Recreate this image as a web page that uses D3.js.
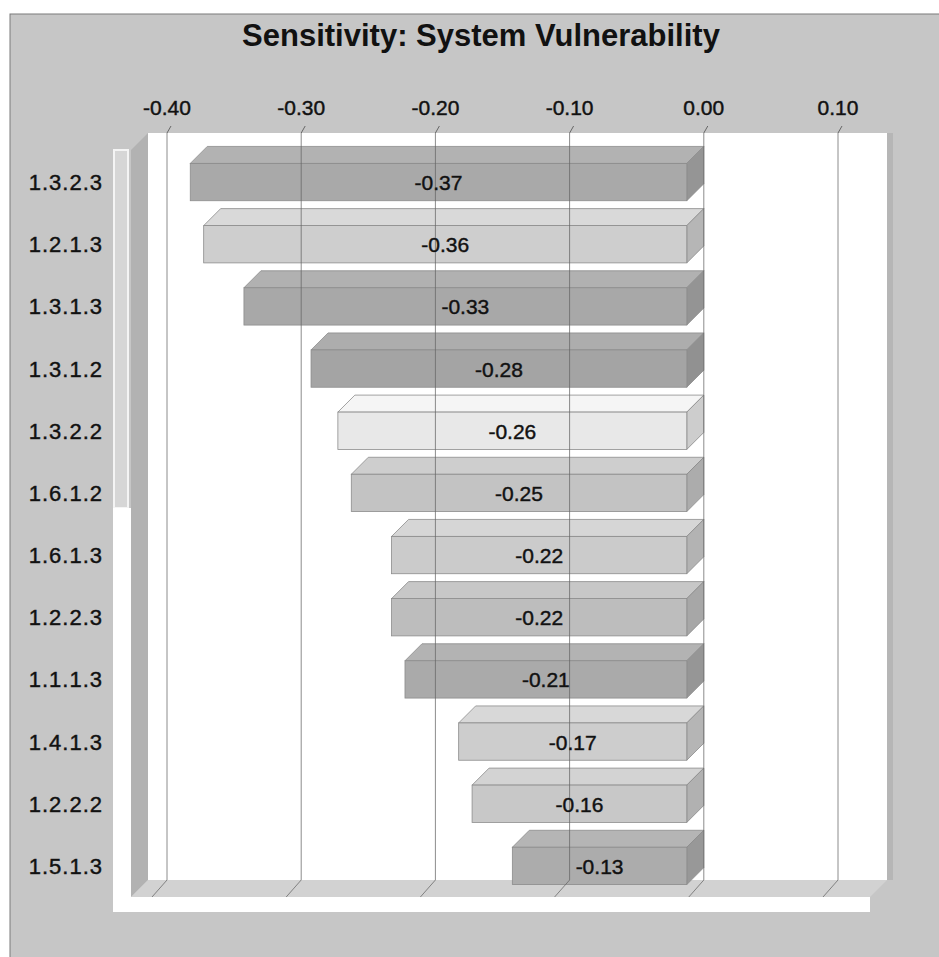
<!DOCTYPE html>
<html>
<head>
<meta charset="utf-8">
<script src="https://cdn.jsdelivr.net/npm/d3@7"></script>
<style>
  html, body { margin: 0; padding: 0; background: #ffffff; }
  svg { display: block; }
  text { font-family: "Liberation Sans", Arial, sans-serif; fill: #111; }
  .lbl { stroke: #222; stroke-width: 0.45px; paint-order: stroke; }
</style>
</head>
<body>
<svg id="chart" width="939" height="957"></svg>
<script>
// Sensitivity of system vulnerability to each factor
const categories = ["1.3.2.3", "1.2.1.3", "1.3.1.3", "1.3.1.2", "1.3.2.2", "1.6.1.2",
                    "1.6.1.3", "1.2.2.3", "1.1.1.3", "1.4.1.3", "1.2.2.2", "1.5.1.3"];
const values = [-0.37, -0.36, -0.33, -0.28, -0.26, -0.25, -0.22, -0.22, -0.21, -0.17, -0.16, -0.13];
const tickValues = [-0.40, -0.30, -0.20, -0.10, 0.00, 0.10];
const titleText = "Sensitivity: System Vulnerability";

// per-bar fill shades
const shades = ["#a9a9a9", "#cecece", "#a8a8a8", "#a4a4a4", "#e8e8e8", "#c3c3c3",
                "#cbcbcb", "#bdbdbd", "#aaaaaa", "#cdcdcd", "#c8c8c8", "#acacac"];

// two-decimal numbers with a plain hyphen for the minus sign
const fmt = d3.formatLocale({ decimal: ".", thousands: ",", grouping: [3],
                              currency: ["", ""], minus: "-" }).format(".2f");

const svg = d3.select("#chart");

// 3D frame geometry
const wall = { left: 148, right: 887, top: 133, bottom: 880 };
const depth = { dx: 17, dy: 17 };

const x = d3.scaleLinear().domain([-0.4, 0.1]).range([167, 838]);
const y = d3.scaleBand().domain(categories).range([134, 880])
  .paddingInner(0.4).paddingOuter(0.2);

// outer panel
svg.append("rect").attr("x", 10).attr("y", 14).attr("width", 935).attr("height", 950)
  .attr("fill", "#c6c6c6").attr("stroke", "#7a7a7a").attr("stroke-width", 1);

// title
svg.append("text").attr("x", 481).attr("y", 46).attr("text-anchor", "middle")
  .style("font-size", "31px").style("font-weight", "bold").text(titleText);

// back wall
svg.append("rect").attr("x", wall.left).attr("y", wall.top)
  .attr("width", wall.right - wall.left).attr("height", wall.bottom - wall.top)
  .attr("fill", "#ffffff");
svg.append("rect").attr("x", wall.right).attr("y", wall.top)
  .attr("width", 6).attr("height", wall.bottom - wall.top).attr("fill", "#b6b6b6");

// left wall
const pt = p => p.map(d => d.join(",")).join(" ");
svg.append("polygon")
  .attr("points", pt([[wall.left - depth.dx, wall.top + depth.dy], [wall.left, wall.top],
                      [wall.left, wall.bottom], [wall.left - depth.dx, wall.bottom + depth.dy]]))
  .attr("fill", "#b2b2b2");
svg.append("rect").attr("x", 114).attr("y", 150).attr("width", 14).attr("height", 358)
  .attr("fill", "#d6d6d6").attr("stroke", "#f4f4f4").attr("stroke-width", 2);
svg.append("rect").attr("x", 113).attr("y", 508).attr("width", 18)
  .attr("height", wall.bottom + depth.dy + 15 - 508).attr("fill", "#ffffff");

// floor
svg.append("polygon")
  .attr("points", pt([[wall.left, wall.bottom], [wall.right, wall.bottom],
                      [wall.right - depth.dx, wall.bottom + depth.dy],
                      [wall.left - depth.dx, wall.bottom + depth.dy]]))
  .attr("fill", "#d2d2d2");
svg.append("rect").attr("x", 113).attr("y", wall.bottom + depth.dy)
  .attr("width", wall.right - depth.dx - 113).attr("height", 15).attr("fill", "#ffffff");

// bars: top face, right side face, front face
const bars = svg.append("g").selectAll("g").data(values).join("g");
bars.each(function(v, i) {
  const g = d3.select(this);
  const x0 = x(v), x1 = x(0);
  const yt = y(categories[i]), h = y.bandwidth();
  const fill = d3.color(shades[i]);
  g.append("polygon")
    .attr("points", pt([[x0, yt], [x1, yt], [x1 - depth.dx, yt + depth.dy], [x0 - depth.dx, yt + depth.dy]]))
    .attr("fill", fill.brighter(0.15)).attr("stroke", "#8c8c8c").attr("stroke-width", 0.8);
  g.append("polygon")
    .attr("points", pt([[x1, yt], [x1, yt + h], [x1 - depth.dx, yt + h + depth.dy], [x1 - depth.dx, yt + depth.dy]]))
    .attr("fill", fill.darker(0.35)).attr("stroke", "#8c8c8c").attr("stroke-width", 0.8);
  g.append("rect")
    .attr("x", x0 - depth.dx).attr("y", yt + depth.dy)
    .attr("width", x1 - x0).attr("height", h)
    .attr("fill", fill).attr("stroke", "#8c8c8c").attr("stroke-width", 0.8);
});

// gridlines on the back wall and floor, with tick marks above
const grid = svg.append("g").attr("stroke", "#666").attr("stroke-width", 1).attr("fill", "none");
tickValues.forEach(t => {
  const gx = x(t);
  grid.append("line").attr("x1", gx).attr("x2", gx).attr("y1", wall.top).attr("y2", wall.bottom)
    .attr("stroke-opacity", 0.75);
  grid.append("line").attr("x1", gx).attr("y1", wall.bottom)
    .attr("x2", gx - depth.dx + 2).attr("y2", wall.bottom + depth.dy).attr("stroke-opacity", 0.75);
  grid.append("line").attr("x1", gx + 4).attr("y1", wall.top - 7)
    .attr("x2", gx).attr("y2", wall.top);
});

// value axis labels
svg.append("g").selectAll("text").data(tickValues).join("text")
  .attr("class", "lbl")
  .attr("x", d => x(d)).attr("y", 115).attr("text-anchor", "middle")
  .style("font-size", "21px").text(d => fmt(d));

// category labels
svg.append("g").selectAll("text").data(categories).join("text")
  .attr("class", "lbl")
  .attr("x", 103).attr("y", d => y(d) + depth.dy + y.bandwidth() / 2 + 8)
  .attr("text-anchor", "end").style("font-size", "22px").style("letter-spacing", "1px")
  .text(d => d);

// value labels on the bar fronts
svg.append("g").selectAll("text").data(values).join("text")
  .attr("class", "lbl")
  .attr("x", v => (x(v) + x(0)) / 2 - depth.dx)
  .attr("y", (v, i) => y(categories[i]) + depth.dy + y.bandwidth() / 2 + 8)
  .attr("text-anchor", "middle").style("font-size", "21px")
  .text(v => fmt(v));
</script>
</body>
</html>
